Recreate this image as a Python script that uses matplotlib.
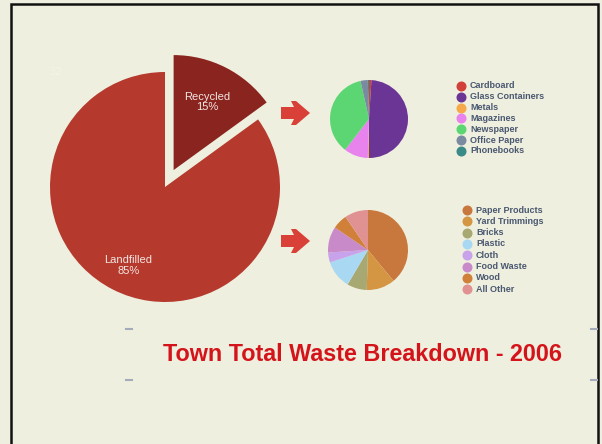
import matplotlib
matplotlib.use("Agg")
import matplotlib.pyplot as plt
from matplotlib.patches import Polygon

# ---- data ----
main_labels = ["Recycled", "Landfilled"]
main_values = [15, 85]
main_colors = ["#8A241F", "#B5392D"]

recycled_labels = ["Cardboard", "Glass Containers", "Metals", "Magazines",
                   "Newspaper", "Office Paper", "Phonebooks"]
recycled_values = [1.0, 49.0, 0.5, 10.0, 36.0, 3.0, 0.5]
recycled_colors = ["#D2403A", "#6B3596", "#F5A94A", "#E882EC",
                   "#5CD672", "#7A8AA0", "#3A8A88"]

landfill_labels = ["Paper Products", "Yard Trimmings", "Bricks", "Plastic",
                   "Cloth", "Food Waste", "Wood", "All Other"]
landfill_values = [39.0, 11.5, 8.0, 11.5, 4.0, 10.5, 6.0, 9.5]
landfill_colors = ["#C8783C", "#D49642", "#A8A872", "#A8D8F2",
                   "#C8A2EA", "#C88AC8", "#D08038", "#E09292"]

title = "Town Total Waste Breakdown - 2006"

W, H = 602, 444
BG = "#EFEFDF"
fig = plt.figure(figsize=(W / 100, H / 100), dpi=100, facecolor=BG)

def px_axes(cx, cy, half):
    return fig.add_axes([(cx - half) / W, (H - cy - half) / H, 2 * half / W, 2 * half / H])

# overlay in pixel coordinates
ov = fig.add_axes([0, 0, 1, 1])
ov.set_xlim(0, W)
ov.set_ylim(H, 0)
ov.axis("off")

# frame
ov.plot([11, 11, 598, 598], [H + 5, 4, 4, H + 5], color="#111111", lw=1.8,
        solid_joinstyle="miter", clip_on=False)

# arrows
for cy in (113, 241):
    pts = [(281, cy - 6), (294, cy - 6), (291, cy - 12), (296, cy - 12), (310, cy),
           (296, cy + 12), (291, cy + 12), (294, cy + 6), (281, cy + 6)]
    ov.add_patch(Polygon(pts, closed=True, facecolor="#D84038", edgecolor="none"))

# slide handles
for x in (126, 591):
    for y in (329, 380):
        ov.plot([x, x + 6], [y, y], color="#A4ACBC", lw=1.5)

ov.text(55, 72, "32", color="#F3F3E8", fontsize=8, ha="center", va="center")

# title
ov.text(362.5, 361, title, color="#D4141A", fontsize=16.8, fontweight="bold",
        family="Liberation Sans", ha="center", va="baseline")

# ---- big pie ----
R = 115
ax = px_axes(165, 187, 1.3 * R)
ax.pie(main_values, colors=main_colors, startangle=90, counterclock=False,
       explode=[0.165, 0], radius=1, wedgeprops=dict(linewidth=0))
ax.set_xlim(-1.3, 1.3)
ax.set_ylim(-1.3, 1.3)
ax.set_aspect("equal")
ax.axis("off")
ax.text(0.37, 0.74, f"{main_labels[0]}\n{main_values[0]}%", color="#F3E6E2",
        fontsize=8, family="Liberation Sans", ha="center", va="center", linespacing=1.1)
ax.text(-0.32, -0.68, f"{main_labels[1]}\n{main_values[1]}%", color="#F3E6E2",
        fontsize=8, family="Liberation Sans", ha="center", va="center", linespacing=1.1)

# ---- small pies ----
def small_pie(cx, cy, r, values, colors):
    a = px_axes(cx, cy, 1.05 * r)
    a.pie(values, colors=colors, startangle=90, counterclock=False, radius=1,
          wedgeprops=dict(linewidth=0))
    a.set_xlim(-1.05, 1.05)
    a.set_ylim(-1.05, 1.05)
    a.set_aspect("equal")
    a.axis("off")

small_pie(369, 119, 39, recycled_values, recycled_colors)
small_pie(368, 250, 40, landfill_values, landfill_colors)

# ---- legends ----
def legend(x, y0, dy, labels, colors):
    for i, (lab, col) in enumerate(zip(labels, colors)):
        y = y0 + i * dy
        ov.plot([x], [y], marker="o", ms=6.2, color=col, mec=col)
        ov.text(x + 9, y, lab, color="#4A5870", fontsize=6.5, fontweight="bold",
                family="Liberation Sans", ha="left", va="center")

legend(461, 86, 10.8, recycled_labels, recycled_colors)
legend(467, 210, 11.3, landfill_labels, landfill_colors)

fig.savefig("out.png", dpi=100, facecolor=BG)
